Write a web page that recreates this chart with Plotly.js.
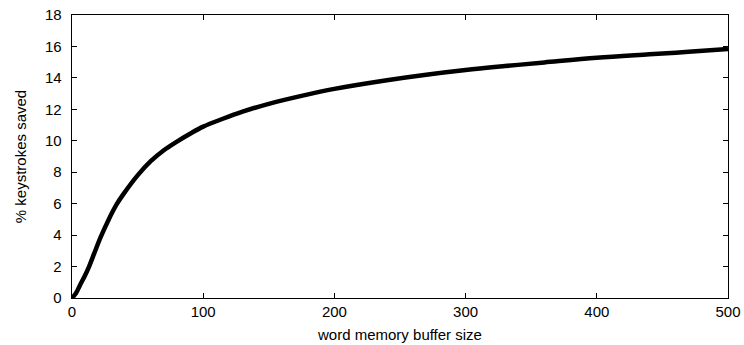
<!DOCTYPE html>
<html>
<head>
<meta charset="utf-8">
<script src="https://cdn.plot.ly/plotly-3.0.1.min.js"></script>
<style>html,body{margin:0;padding:0;background:#fff;}#chart{width:744px;height:345px;}</style>
</head>
<body>
<div id="chart"></div>
<script>
const bufferSize = [0, 3, 6, 10, 13, 17, 22, 28, 34, 40, 50, 60, 70, 80, 90, 100, 115, 130, 150, 180, 200, 240, 270, 300, 330, 360, 400, 440, 470, 500];
const keystrokesSaved = [0, 0.3, 0.8, 1.45, 2.0, 2.85, 3.9, 5.0, 5.95, 6.7, 7.8, 8.7, 9.4, 9.95, 10.45, 10.9, 11.4, 11.85, 12.35, 12.95, 13.3, 13.85, 14.2, 14.5, 14.75, 14.98, 15.28, 15.5, 15.66, 15.84];
const xTicks = [0, 100, 200, 300, 400, 500];
const yTicks = [0, 2, 4, 6, 8, 10, 12, 14, 16, 18];

const font = {family: 'Liberation Sans, Arial, sans-serif', size: 15, color: '#000'};
const trace = {
  x: bufferSize, y: keystrokesSaved, type: 'scatter', mode: 'lines',
  line: {color: '#000', width: 4.5, shape: 'spline', smoothing: 1},
  hoverinfo: 'none', cliponaxis: true
};
const axisCommon = {
  showline: true, linecolor: '#000', linewidth: 1.3, mirror: 'allticks',
  ticks: 'inside', ticklen: 5, tickwidth: 1, tickcolor: '#000',
  showgrid: false, zeroline: false, tickfont: font, fixedrange: true
};
const layout = {
  width: 744, height: 345,
  margin: {l: 72, r: 16, t: 15, b: 47},
  paper_bgcolor: '#fff', plot_bgcolor: '#fff',
  font: font, showlegend: false,
  xaxis: Object.assign({}, axisCommon, {range: [0, 500], tickvals: xTicks, ticktext: xTicks.map(String),
    title: {text: 'word memory buffer size', font: font, standoff: 10}}),
  yaxis: Object.assign({}, axisCommon, {range: [0, 18], tickvals: yTicks, ticktext: yTicks.map(String),
    ticklabelstandoff: 6,
    title: {text: '% keystrokes saved', font: font, standoff: 14}})
};
Plotly.newPlot('chart', [trace], layout, {staticPlot: true, displayModeBar: false});
</script>
</body>
</html>
